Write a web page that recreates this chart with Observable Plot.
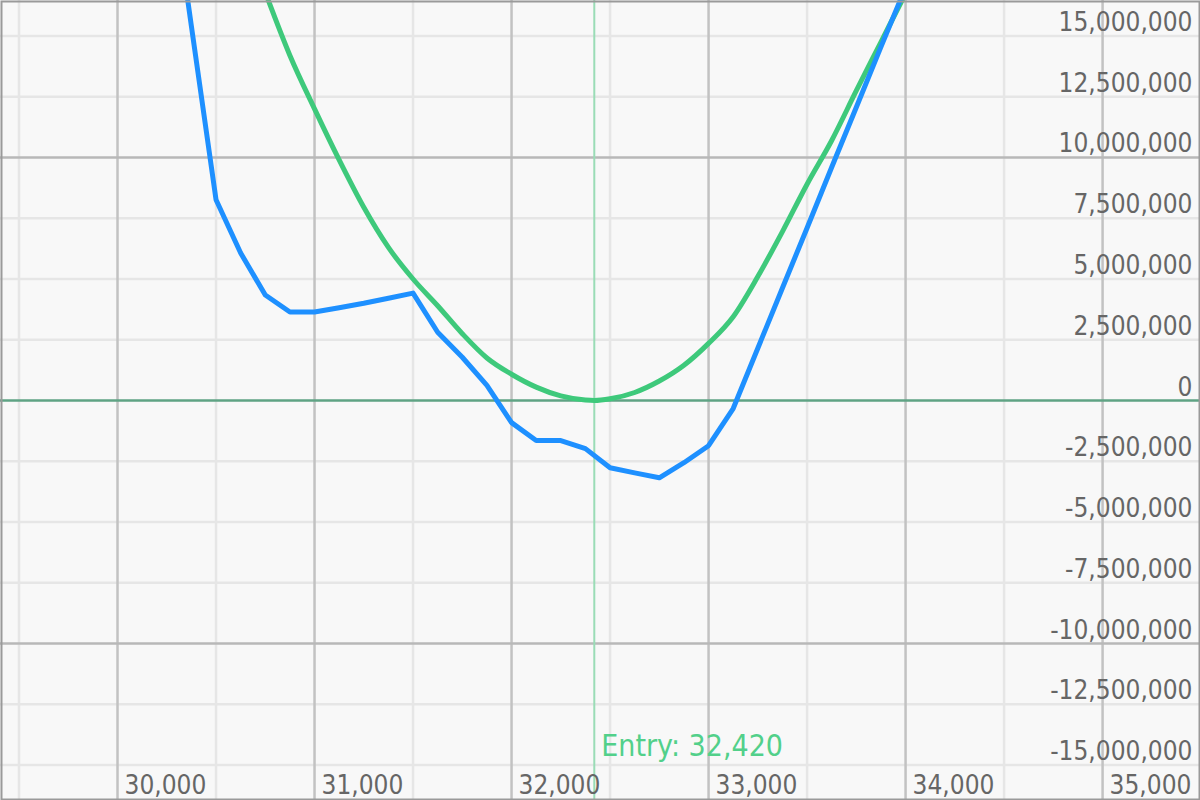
<!DOCTYPE html>
<html>
<head>
<meta charset="utf-8">
<script src="https://cdn.jsdelivr.net/npm/d3@7"></script>
<script src="https://cdn.jsdelivr.net/npm/@observablehq/plot@0.6"></script>
<style>
  html, body { margin: 0; padding: 0; background: #f8f8f8; overflow: hidden; }
  #chart svg { display: block; }
</style>
</head>
<body>
<div id="chart"></div>
<script>
// ---- Data ----
const bluePrice = [30250,30375,30500,30625,30750,30875,31000,31125,31250,31375,31500,31625,31750,31875,32000,32125,32250,32375,32500,32625,32750,32875,33000,33125,33250,33375,33500,33625,33750,33875,34000,34125];
const bluePnl = [22600000,15400000,8260000,6070000,4340000,3640000,3640000,3820000,4000000,4210000,4420000,2810000,1780000,620000,-910000,-1650000,-1650000,-1980000,-2770000,-2980000,-3180000,-2560000,-1860000,-330000,2150000,4630000,7100000,9600000,12070000,14550000,17000000,19500000];

const greenPrice = [30625,30750,30875,31000,31125,31250,31375,31500,31625,31750,31875,32000,32125,32250,32375,32420,32500,32625,32750,32875,33000,33125,33250,33375,33500,33625,33750,33875,34000,34125];
const greenPnl = [19600000,16800000,14200000,12000000,9900000,7950000,6300000,5000000,3900000,2750000,1750000,1080000,550000,190000,20000,0,70000,330000,800000,1450000,2350000,3450000,5100000,6950000,8900000,10700000,12750000,14750000,16750000,18750000];

const entryPrice = 32420;
const entryLabel = "Entry: 32,420";

const xTickLabels = [30000,31000,32000,33000,34000,35000];
const xMajorGrid = [30000,31000,32000,33000,34000,35000];
const xMinorGrid = [29500,30500,31500,32500,33500,34500];
const yTickLabels = [-15000000,-12500000,-10000000,-7500000,-5000000,-2500000,0,2500000,5000000,7500000,10000000,12500000,15000000];
const yMajorGrid = [-10000000,10000000];
const yMinorGrid = [-15000000,-12500000,-7500000,-5000000,-2500000,2500000,5000000,7500000,12500000,15000000];
const zeroLine = [0];

const blue = bluePrice.map((p,i) => ({price:p, pnl:bluePnl[i]}));
const green = greenPrice.map((p,i) => ({price:p, pnl:greenPnl[i]}));
const fmt = v => v.toLocaleString("en-US");

const FONT = "'DejaVu Sans Condensed', 'DejaVu Sans', sans-serif";

const chart = Plot.plot({
  width: 1200,
  height: 800,
  margin: 0,
  x: {domain: [29406, 35497], axis: null},
  y: {domain: [-16460000, 16460000], axis: null},
  style: {background: "#f8f8f8", fontFamily: FONT, fontStretch: "condensed"},
  marks: [
    Plot.ruleX(xMinorGrid, {x: d => d, stroke: "#e6e6e6", strokeWidth: 2.5}),
    Plot.ruleY(yMinorGrid, {y: d => d, stroke: "#e6e6e6", strokeWidth: 2.5}),
    Plot.ruleX(xMajorGrid, {x: d => d, stroke: "#c2c2c2", strokeWidth: 2.5}),
    Plot.ruleY(yMajorGrid, {y: d => d, stroke: "#b8b8b8", strokeWidth: 2.5}),
    Plot.ruleX([entryPrice], {x: d => d, stroke: "#9adcb6", strokeWidth: 2}),
    Plot.ruleY(zeroLine, {y: d => d, stroke: "#5fa384", strokeWidth: 2.5}),
    Plot.line(green, {x: "price", y: "pnl", stroke: "#3ec97b", strokeWidth: 5, curve: "monotone-x", clip: true}),
    Plot.line(blue, {x: "price", y: "pnl", stroke: "#1e90ff", strokeWidth: 5, clip: true}),
    Plot.text(yTickLabels, {y: d => d, text: d => fmt(d), frameAnchor: "right", textAnchor: "end", lineAnchor: "bottom", dx: -8, dy: -5, fill: "#666", fontSize: 26}),
    Plot.text(xTickLabels, {x: d => d, text: d => fmt(d), frameAnchor: "bottom", textAnchor: "start", lineAnchor: "bottom", dx: 7, dy: -7, fill: "#666", fontSize: 26}),
    Plot.text([entryPrice], {x: d => d, text: () => entryLabel, frameAnchor: "bottom", textAnchor: "start", lineAnchor: "bottom", dx: 7, dy: -45, fill: "#52d08a", fontSize: 30}),
    Plot.frame({stroke: "#9a9a9a", strokeWidth: 2, inset: 1})
  ]
});
document.getElementById("chart").appendChild(chart);
</script>
</body>
</html>
